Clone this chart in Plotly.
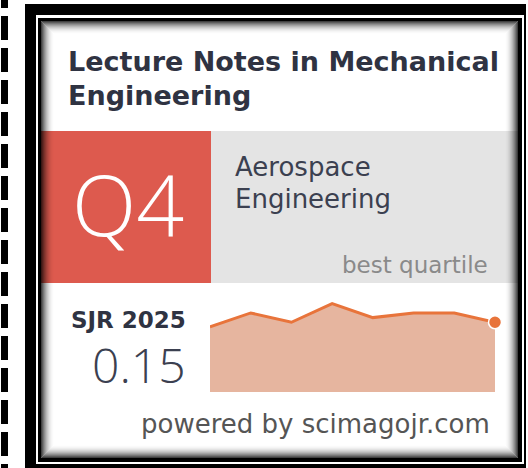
import plotly.graph_objects as go

# ---- data ----
years = [2018, 2019, 2020, 2021, 2022, 2023, 2024, 2025]
sjr = [0.14, 0.17, 0.15, 0.19, 0.16, 0.17, 0.17, 0.15]
journal_lines = ["Lecture Notes in Mechanical", "Engineering"]
category_lines = ["Aerospace", "Engineering"]
quartile = "Q4"
sjr_label = "SJR 2025"
sjr_value = "0.15"
footer = "powered by scimagojr.com"

W, H = 528, 468


def px(x):
    return x / W


def py(y):
    return 1 - y / H


shapes = []


def rect(x0, y0, x1, y1, fill, layer="below"):
    shapes.append(dict(type="rect", xref="paper", yref="paper",
                       x0=px(x0), x1=px(x1), y0=py(y1), y1=py(y0),
                       fillcolor=fill, layer=layer, line=dict(width=0)))


# dashed strip on the left
for k in range(-1, 15):
    y0 = 16 + 32 * k
    rect(1, max(y0, 0), 8, min(y0 + 24, H), "black")

# frames
rect(25, 4, 526, 470, "black")
rect(36, 15, 524, 464, "white")
rect(38, 18, 522, 462, "black")
rect(41, 21, 518, 458, "white")

# quartile block
rect(41, 131, 211, 283, "#dd5a4e")
rect(211, 131, 518, 283, "#e4e4e4")

# inner shadow (overlay)
N = 13
for i in range(N):
    a = 0.75 * (1 - i / N) ** 2
    o = i + 0.5
    shapes.append(dict(type="rect", xref="paper", yref="paper",
                       x0=px(41 + o), x1=px(518 - o), y0=py(458 - o), y1=py(21 + o),
                       fillcolor="rgba(0,0,0,0)", layer="above",
                       line=dict(width=1, color=f"rgba(0,0,0,{a:.3f})")))

fig = go.Figure()
fig.add_trace(go.Scatter(
    x=years, y=sjr, mode="lines", fill="tozeroy",
    fillcolor="#e6b59f", line=dict(color="#e8743b", width=3),
    hoverinfo="skip", cliponaxis=False))
fig.add_trace(go.Scatter(
    x=years[-1:], y=sjr[-1:], mode="markers",
    marker=dict(color="#e8743b", size=13, line=dict(color="white", width=1.5)),
    hoverinfo="skip", cliponaxis=False))

ann = []


def text(x, y, s, size, color, xanchor="left", weight="normal", family="DejaVu Sans"):
    ann.append(dict(x=px(x), y=py(y), xref="paper", yref="paper", text=s,
                    showarrow=False, xanchor=xanchor, yanchor="middle",
                    font=dict(size=size, color=color, family=family, weight=weight)))


text(66, 62, journal_lines[0], 27, "#2f3342", weight="bold")
text(66, 96, journal_lines[1], 27, "#2f3342", weight="bold")
text(128, 203, quartile, 84, "white", xanchor="center", weight=300, family="Open Sans")
text(233, 167, category_lines[0], 26, "#3b4050")
text(233, 199, category_lines[1], 26, "#3b4050")
text(490, 265, "best quartile", 23, "#8a8a8a", xanchor="right")
text(188, 320, sjr_label, 23, "#2f3342", xanchor="right", weight="bold")
text(188, 364, sjr_value, 48, "#3b4050", xanchor="right", weight=300, family="Open Sans")
text(315, 424, footer, 26, "#555555", xanchor="center")

fig.update_layout(
    width=W, height=H, margin=dict(l=0, r=0, t=0, b=0),
    paper_bgcolor="white", plot_bgcolor="rgba(0,0,0,0)",
    showlegend=False, shapes=shapes, annotations=ann,
    xaxis=dict(domain=[px(210), px(495)], range=[2018, 2025], visible=False, fixedrange=True),
    yaxis=dict(domain=[py(392), py(299)], range=[0, 0.2], visible=False, fixedrange=True),
)

fig.write_html("out.html", config={"displayModeBar": False},
               post_script="document.body.style.margin='0';document.body.style.padding='0';")
